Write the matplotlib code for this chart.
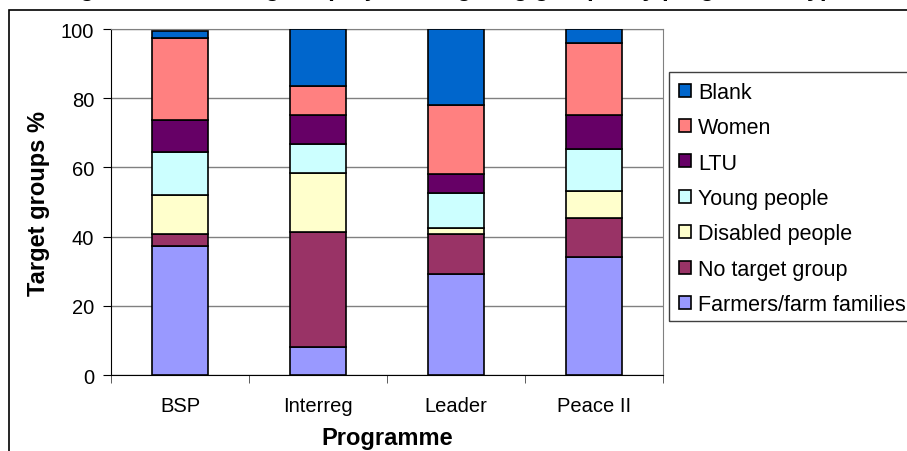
import matplotlib.pyplot as plt
import numpy as np
from matplotlib.patches import Rectangle

plt.rcParams['font.family'] = ['Liberation Sans', 'DejaVu Sans']

programmes = ['BSP', 'Interreg', 'Leader', 'Peace II']
groups = ['Farmers/farm families', 'No target group', 'Disabled people',
          'Young people', 'LTU', 'Women', 'Blank']
colours = ['#9999FF', '#993366', '#FFFFCC', '#CCFFFF', '#660066', '#FF8080', '#0066CC']

# share of projects (%) per target group, bottom to top
farmers = [37.4, 8.2, 29.2, 34.1]
no_target = [3.3, 33.2, 11.7, 11.3]
disabled = [11.4, 17.1, 1.5, 7.8]
young = [12.3, 8.3, 10.2, 12.1]
ltu = [9.4, 8.3, 5.5, 9.8]
women = [23.7, 8.3, 19.9, 20.9]
blank = [2.0, 16.6, 22.0, 4.0]

series = [farmers, no_target, disabled, young, ltu, women, blank]

W, H = 907, 452
fig = plt.figure(figsize=(W / 100, H / 100), dpi=100)
ax = fig.add_axes([0.1224, 0.1681, 0.6086, 0.7655])

x = np.arange(len(programmes))
bottom = np.zeros(len(programmes))
handles = []
for vals, name, col in zip(series, groups, colours):
    b = ax.bar(x, vals, 0.4, bottom=bottom, color=col, edgecolor='black',
               linewidth=1.2, label=name, zorder=3)
    handles.append(b)
    bottom += np.array(vals)

ax.set_xlim(-0.5, 3.5)
ax.set_ylim(0, 100)
ax.set_yticks([0, 20, 40, 60, 80, 100])
ax.yaxis.grid(True, color='#808080', linewidth=1, zorder=0)
ax.set_xticks(x)
ax.set_xticklabels(programmes, fontsize=14.5)
ax.set_xticks(np.arange(-0.5, 4, 1), minor=True)
ax.tick_params(axis='x', which='major', length=0, pad=15)
ax.tick_params(axis='x', which='minor', length=6, direction='out', color='#404040')
ax.tick_params(axis='y', length=6, direction='out', labelsize=14.5, pad=6)

for side in ['top', 'right']:
    ax.spines[side].set_color('#808080')
ax.spines['left'].set_color('black')
ax.spines['bottom'].set_color('black')

ax.set_xlabel('Programme', fontsize=17, fontweight='bold', labelpad=8)
ax.set_ylabel('Target groups %', fontsize=17, fontweight='bold', labelpad=8)

fig.legend(handles[::-1], groups[::-1], loc='upper left',
           bbox_to_anchor=(669 / W, 1 - 73 / H), fontsize=15.5,
           frameon=False, handlelength=0.55, handleheight=0.55,
           handletextpad=0.35, labelspacing=0.67, borderpad=0.45,
           borderaxespad=0)

# legend frame runs past the right edge
fig.patches.append(Rectangle((669 / W, 1 - 322 / H), 0.4, (322 - 73) / H,
                             transform=fig.transFigure, fill=False,
                             edgecolor='#404040', linewidth=1))

# chart area frame
fig.patches.append(Rectangle((9 / W, -0.5), 2, 0.5 + 1 - 11 / H,
                             transform=fig.transFigure, fill=False,
                             edgecolor='black', linewidth=1.2))

fig.text(0.5, 1 + 4.0 / H,
         'Figure 5: Percentage of projects targeting groups, by programme type',
         ha='center', va='baseline', fontsize=17, fontweight='bold')

fig.savefig('out.png', dpi=100)
